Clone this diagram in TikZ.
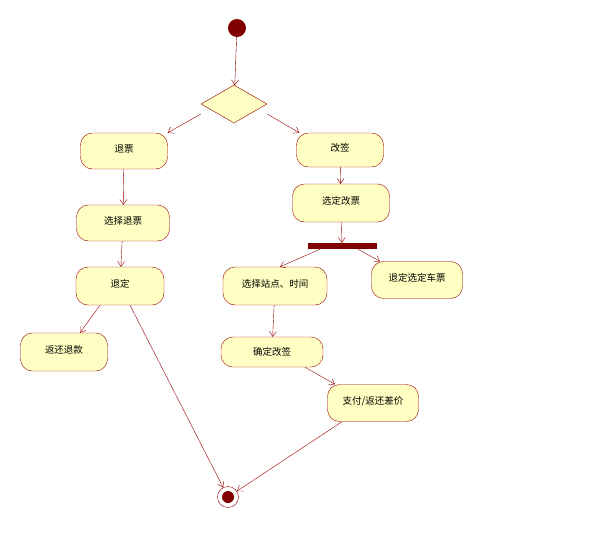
\documentclass[tikz,border=0pt]{standalone}
\usepackage{fontspec}
\setmainfont{Noto Sans CJK SC}
\usetikzlibrary{shapes.geometric,arrows.meta}
\definecolor{bd}{HTML}{990000}
\definecolor{fl}{HTML}{FFFFC4}
\definecolor{dk}{HTML}{800000}
\newcommand{\up}[1]{\raisebox{5pt}{#1}}
\begin{document}
\begin{tikzpicture}[x=1pt,y=-1pt,
  act/.style={draw=bd,fill=fl,rounded corners=12pt,inner sep=0pt,font=\fontsize{9.5}{10}\selectfont,text depth=0pt},
  arr/.style={draw=bd,-{Straight Barb[length=5pt,width=7pt]}}]
\useasboundingbox (0,0) rectangle (600,539);
\node[circle,fill=dk,minimum size=18pt,inner sep=0pt] (s) at (237,28) {};
\node[diamond,draw=bd,fill=fl,minimum width=66pt,minimum height=38pt,inner sep=0pt] (d) at (234,104) {};
\node[act,minimum width=87pt,minimum height=36pt] (tp) at (124,151) {\up{退票}};
\node[act,minimum width=87pt,minimum height=34pt] (gq) at (340,150) {\up{改签}};
\node[act,minimum width=93pt,minimum height=36pt] (xz) at (123,223) {\up{选择退票}};
\node[act,minimum width=97pt,minimum height=38pt] (xg) at (341,203) {\up{选定改票}};
\node[fill=dk,minimum width=69pt,minimum height=6pt,inner sep=0pt] (f) at (342,246) {};
\node[act,minimum width=104pt,minimum height=38pt] (zd) at (275,286) {\up{选择站点、时间}};
\node[act,minimum width=91pt,minimum height=37pt] (cp) at (417,280) {\up{退定选定车票}};
\node[act,minimum width=88pt,minimum height=38pt] (td) at (120,286) {\up{退定}};
\node[act,minimum width=87pt,minimum height=38pt] (fh) at (64,352) {\up{返还退款}};
\node[act,minimum width=102pt,minimum height=30pt] (qd) at (272,352) {\raisebox{2pt}{确定改签}};
\node[act,minimum width=91pt,minimum height=37pt] (zf) at (373,403) {\up{支付/返还差价}};
\node[circle,draw=bd,fill=white,minimum size=21pt,inner sep=0pt] (e) at (228,497) {};
\node[circle,fill=dk,minimum size=12pt,inner sep=0pt] at (e) {};
\draw[arr] (s) -- (d);
\draw[arr] (d.west) ++(0,10) coordinate (dl) (dl) -- (tp.north east);
\draw[arr] (d.east) ++(0,10) coordinate (dr) (dr) -- ([xshift=3pt]gq.north west);
\draw[arr] (tp) -- (xz);
\draw[arr] (xz) -- (td);
\draw[arr] ([xshift=-20pt]td.south) -- ([xshift=16pt]fh.north);
\draw[arr] ([xshift=10pt]td.south) -- (e);
\draw[arr] (gq) -- (xg);
\draw[arr] (xg) -- (f);
\draw[arr] ([xshift=-22pt]f.south) -- ([xshift=5pt]zd.north);
\draw[arr] ([xshift=16pt]f.south) -- ([xshift=-37pt]cp.north);
\draw[arr] (zd) -- (qd);
\draw[arr] ([xshift=33pt]qd.south) -- ([xshift=-38pt]zf.north);
\draw[arr] ([xshift=-31pt]zf.south) -- (e);
\end{tikzpicture}
\end{document}
